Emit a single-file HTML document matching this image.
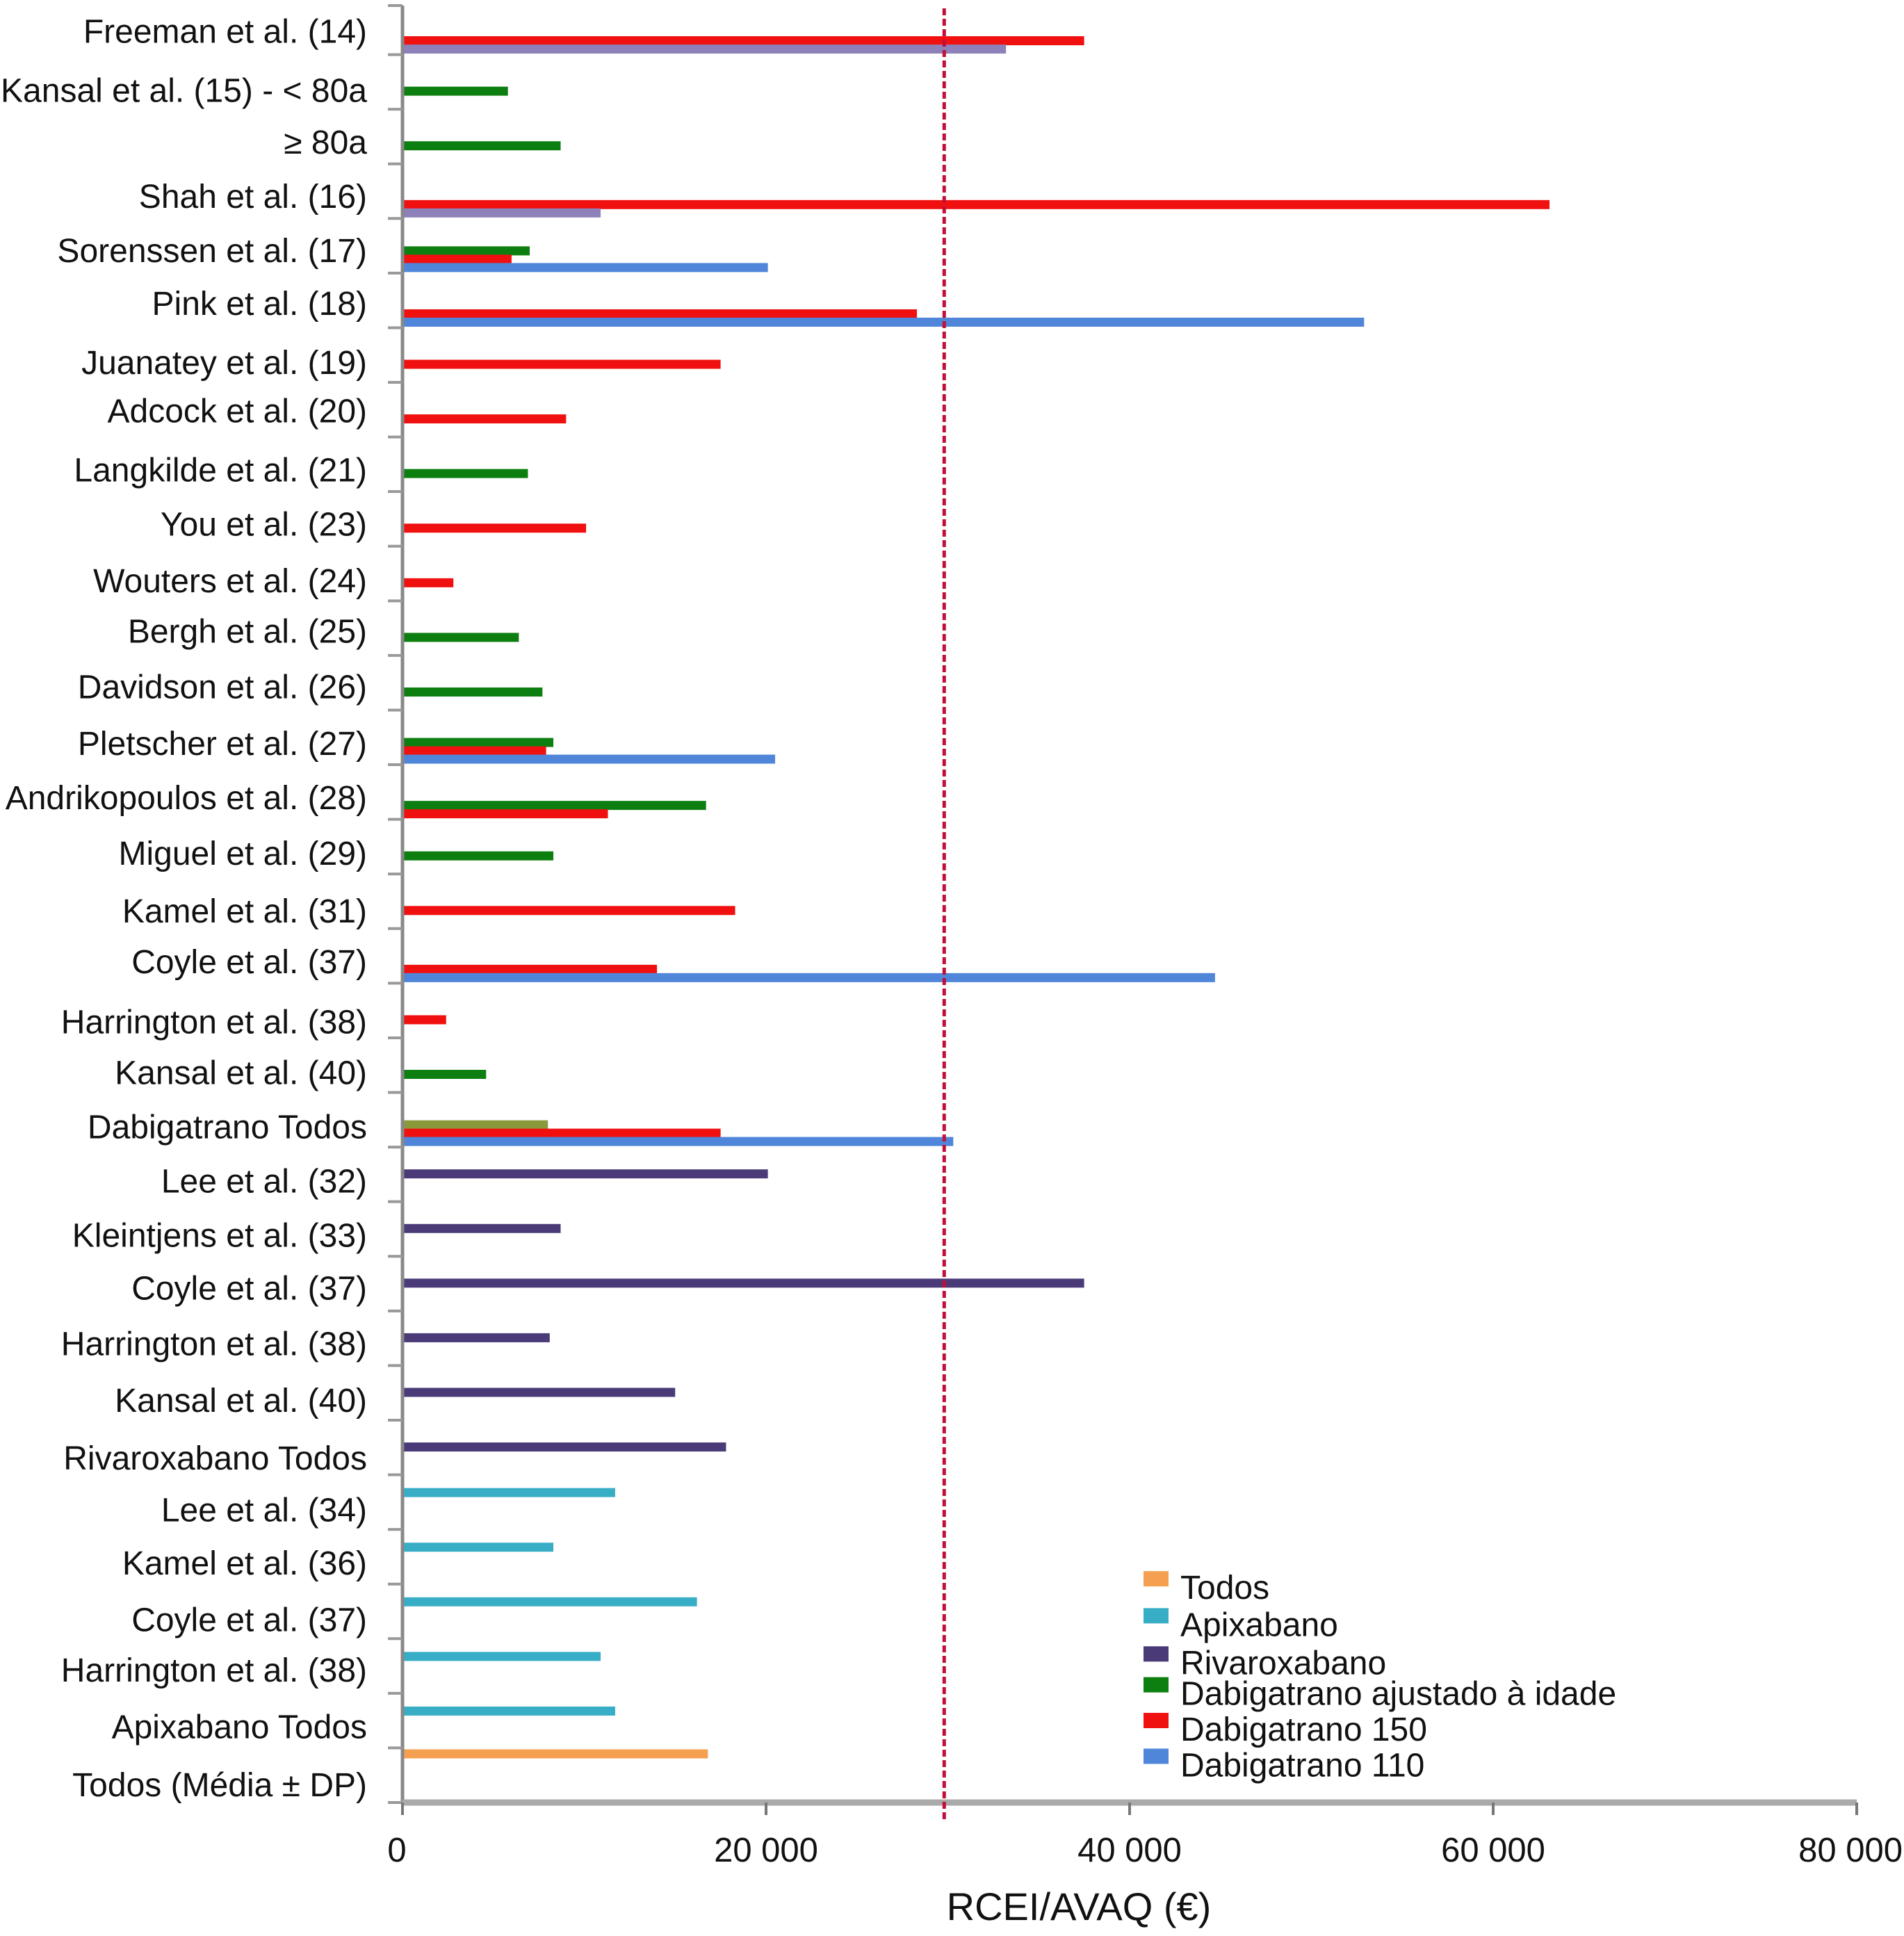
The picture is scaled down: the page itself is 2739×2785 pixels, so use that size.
<!DOCTYPE html>
<html><head><meta charset="utf-8"><style>
html,body{margin:0;padding:0;background:#fff;}
svg text{font-family:"Liberation Sans",sans-serif;fill:#111;}
</style></head><body>
<svg id="chart" width="2739" height="2780" viewBox="0 0 2739 2780" xmlns="http://www.w3.org/2000/svg">
<g id="labels"></g>
<g id="bars"></g>
<g id="axes"></g>
<g id="legend"></g>
</svg>
<script>
const categories = ["Freeman et al. (14)","Kansal et al. (15) - < 80a","\u2265 80a","Shah et al. (16)","Sorenssen et al. (17)","Pink et al. (18)","Juanatey et al. (19)","Adcock et al. (20)","Langkilde et al. (21)","You et al. (23)","Wouters et al. (24)","Bergh et al. (25)","Davidson et al. (26)","Pletscher et al. (27)","Andrikopoulos et al. (28)","Miguel et al. (29)","Kamel et al. (31)","Coyle et al. (37)","Harrington et al. (38)","Kansal et al. (40)","Dabigatrano Todos","Lee et al. (32)","Kleintjens et al. (33)","Coyle et al. (37)","Harrington et al. (38)","Kansal et al. (40)","Rivaroxabano Todos","Lee et al.  (34)","Kamel et al.  (36)","Coyle et al.  (37)","Harrington et al.  (38)","Apixabano Todos","Todos (Média \u00b1 DP)"];
const labelY = [25,73,115,159,203,246,294,333,381,425,471,512,557,603,647,692,739,780,829,870,914,958,1002,1045,1090,1136,1183,1225,1268,1314,1355,1401,1448];
// bars: category index, series, value
const barCat = [0,0,1,2,3,3,4,4,4,5,5,6,7,8,9,10,11,12,13,13,13,14,14,15,16,17,17,18,19,20,20,20,21,22,23,24,25,26,27,28,29,30,31,32];
const barSeries = ["d150","lav","adj","adj","d150","lav","adj","d150","d110","d150","d110","d150","d150","adj","d150","d150","adj","adj","adj","d150","d110","adj","d150","adj","d150","d150","d110","d150","adj","olive","d150","d110","riva","riva","riva","riva","riva","riva","apix","apix","apix","apix","apix","todos"];
const barValues = [37500,33200,5800,8700,63100,10900,7000,6000,20100,28300,52900,17500,9000,6900,10100,2800,6400,7700,8300,7900,20500,16700,11300,8300,18300,14000,44700,2400,4600,8000,17500,30300,20100,8700,37500,8100,15000,17800,11700,8300,16200,10900,11700,16800];
const thresholdValue = 29800;
const xTicks = [0,20000,40000,60000,80000];
const xTickLabels = ["0","20 000","40 000","60 000","80 000"];
const legendNames = ["Todos","Apixabano","Rivaroxabano","Dabigatrano ajustado \u00e0 idade","Dabigatrano 150","Dabigatrano 110"];
const legendKeys = ["todos","apix","riva","adj","d150","d110"];

const colors = {d150:"#f01010",d110:"#4f86d9",adj:"#0d7f10",lav:"#8e80b8",riva:"#4a3b78",apix:"#38aec6",todos:"#f5a050",olive:"#8a9a3a"};
const NS="http://www.w3.org/2000/svg";
const X0=579, XPER=523/20000, AXY=2593, S=1.7728;
const rowH = AXY/categories.length;
const xs = v => X0 + v*XPER;
function lift(c){ return c>=32?44 : c>=27?27 : c>=21?14 : 0; }
function mk(tag, attrs, parent){const e=document.createElementNS(NS,tag);for(const k in attrs)e.setAttribute(k,attrs[k]);parent.appendChild(e);return e;}
const gL=document.getElementById('labels'), gB=document.getElementById('bars'), gA=document.getElementById('axes'), gLg=document.getElementById('legend');

categories.forEach((c,i)=>{
  const t=mk('text',{x:528,y:labelY[i]*S+17,'text-anchor':'end','font-size':48},gL);
  t.textContent=c;
  
  
});

const counts={}, idx=[];
barCat.forEach((c,i)=>{idx.push(counts[c]||0);counts[c]=(counts[c]||0)+1;});
barCat.forEach((c,i)=>{
  const n=counts[c], j=idx[i];
  const bottom=(c+1)*rowH;
  const cy = n===1 ? bottom-26-lift(c) : bottom-8-12*(n-1-j);
  const r=mk('rect',{x:X0,y:cy-6.5,width:Math.max(0,xs(barValues[i])-X0),height:13,fill:colors[barSeries[i]]},gB);
  
  
});

let a=mk('line',{x1:X0,y1:8,x2:X0,y2:AXY,stroke:'#888','stroke-width':5},gA);

for(let k=0;k<=categories.length;k++){
  const y=k===0?8:k*rowH;
  const t=mk('line',{x1:558,y1:y,x2:X0,y2:y,stroke:'#999','stroke-width':4},gA);
  
}
a=mk('line',{x1:X0,y1:AXY,x2:xs(80000),y2:AXY,stroke:'#aaa','stroke-width':9},gA);

xTicks.forEach((v,i)=>{
  const t=mk('line',{x1:xs(v),y1:AXY,x2:xs(v),y2:AXY+18,stroke:'#777','stroke-width':4},gA);
  
  const last=i===xTicks.length-1;
  const l=mk('text',{x:last?2737:xs(v)-(i===0?8:0),y:2678,'text-anchor':last?'end':'middle','font-size':49},gA);
  l.textContent=xTickLabels[i];
  
});
const tl=mk('text',{x:1552,y:2762,'text-anchor':'middle','font-size':56},gA);
tl.textContent="RCEI/AVAQ (\u20ac)";

const th=mk('line',{x1:xs(thresholdValue),y1:12,x2:xs(thresholdValue),y2:AXY+25,stroke:'#c0103a','stroke-width':5,'stroke-dasharray':'10,5'},gA);


const legY=[1289,1319,1350,1375,1404,1433];
legendNames.forEach((nm,i)=>{
  const y=legY[i]*S;
  const r=mk('rect',{x:1645,y:y-25,width:36,height:22,fill:colors[legendKeys[i]]},gLg);
  
  const t=mk('text',{x:1698,y:y+15,'font-size':48},gLg);
  t.textContent=nm;
  
});
</script>
</body></html>
